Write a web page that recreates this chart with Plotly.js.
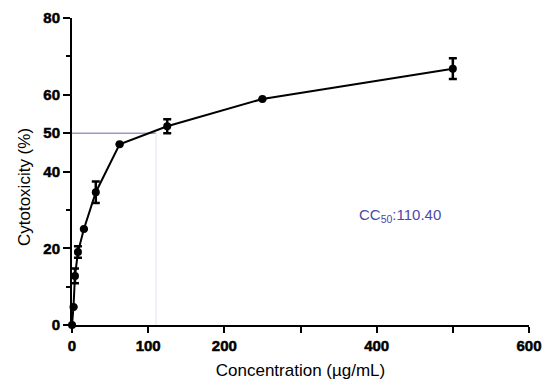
<!DOCTYPE html>
<html>
<head>
<meta charset="utf-8">
<script src="https://cdn.plot.ly/plotly-3.0.1.min.js"></script>
<style>
  html, body { margin: 0; padding: 0; background: #fff; }
  #chart { width: 550px; height: 383px; }
  /* heavier tick numerals */
  #chart .xtick text, #chart .ytick text { font-weight: 700 !important; stroke: #000; stroke-width: 0.5px; }
</style>
</head>
<body>
<div id="chart"></div>
<script>
// Concentration series (µg/mL) and measured cytotoxicity (%) with SD
const concentration = [0, 1.95, 3.91, 7.81, 15.63, 31.25, 62.5, 125, 250, 500];
const cytotoxicity  = [0, 4.7, 12.8, 19.0, 25.0, 34.6, 47.1, 51.8, 58.9, 66.8];
const sd            = [0, 0, 1.9, 1.5, 0, 2.8, 0, 1.8, 0, 2.7];

// Half-maximal cytotoxic concentration
const cc50 = 110.40;
const cc50Level = 50;

const xTicks = [0, 100, 200, 400, 600];
const xMinorTicks = [300, 500];
const yTicks = [0, 20, 40, 50, 60, 80];
const yMinorTicks = [10, 30, 70];

const font = 'Liberation Sans, Arial, sans-serif';

const trace = {
  x: concentration,
  y: cytotoxicity,
  type: 'scatter',
  mode: 'lines+markers',
  line: { color: '#000', width: 2 },
  marker: { color: '#000', size: 8, symbol: 'circle' },
  error_y: { type: 'data', array: sd, visible: true, color: '#000', thickness: 2.5, width: 4 },
  cliponaxis: false,
  hoverinfo: 'x+y'
};

const layout = {
  width: 550,
  height: 383,
  margin: { l: 72, r: 21, t: 18, b: 58 },
  paper_bgcolor: '#fff',
  plot_bgcolor: '#fff',
  showlegend: false,
  font: { family: font, color: '#000' },
  xaxis: {
    range: [0, 600],
    tickmode: 'array',
    tickvals: xTicks,
    ticks: 'outside',
    ticklen: 6,
    tickwidth: 2,
    tickcolor: '#000',
    minor: { tickmode: 'array', tickvals: xMinorTicks, ticks: 'outside', ticklen: 6, tickwidth: 2, tickcolor: '#000', showgrid: false },
    showline: true,
    linewidth: 2,
    linecolor: '#000',
    showgrid: false,
    zeroline: false,
    tickfont: { family: font, size: 15, weight: 'bold', color: '#000' },
    title: { text: 'Concentration (µg/mL)', font: { family: font, size: 17, color: '#000' }, standoff: 11 }
  },
  yaxis: {
    range: [0, 80],
    tickmode: 'array',
    tickvals: yTicks,
    ticks: 'outside',
    ticklen: 7,
    tickwidth: 2,
    tickcolor: '#000',
    minor: { tickmode: 'array', tickvals: yMinorTicks, ticks: 'outside', ticklen: 4, tickwidth: 2, tickcolor: '#000', showgrid: false },
    showline: true,
    linewidth: 2,
    linecolor: '#000',
    showgrid: false,
    zeroline: false,
    tickfont: { family: font, size: 15, weight: 'bold', color: '#000' }
  },
  shapes: [
    { type: 'line', xref: 'x', yref: 'y', x0: 0, x1: cc50, y0: cc50Level, y1: cc50Level,
      line: { color: '#9a9ac4', width: 1.5 }, layer: 'below' },
    { type: 'line', xref: 'x', yref: 'y', x0: cc50, x1: cc50, y0: 0, y1: cc50Level,
      line: { color: '#ececf3', width: 1.5 }, layer: 'below' }
  ],
  annotations: [
    { xref: 'paper', yref: 'paper', x: -0.1025, y: 0.45, text: 'Cytotoxicity (%)', textangle: -90,
      showarrow: false, font: { family: font, size: 17, color: '#000' }, xanchor: 'center', yanchor: 'middle' },
    { xref: 'x', yref: 'y', x: 430, y: 28.5, text: 'CC<sub>50</sub>:110.40',
      showarrow: false, font: { family: font, size: 15, color: '#4a4aa6' }, xanchor: 'center', yanchor: 'middle' }
  ]
};

Plotly.newPlot('chart', [trace], layout, { displayModeBar: false, staticPlot: true });
</script>
</body>
</html>
